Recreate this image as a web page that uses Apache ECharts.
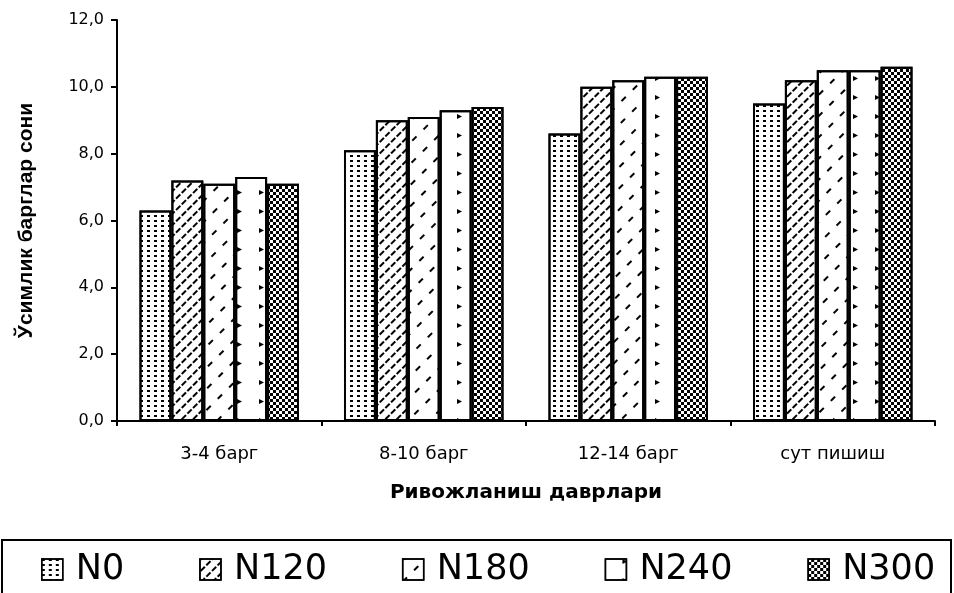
<!DOCTYPE html>
<html>
<head>
<meta charset="utf-8">
<script src="https://cdn.jsdelivr.net/npm/echarts@6/dist/echarts.min.js"></script>
<style>
  html, body { margin: 0; padding: 0; background: #fff; }
  #chart { width: 954px; height: 593px; }
</style>
</head>
<body>
<div id="chart"></div>
<script>
// Growth stages and leaf counts per nitrogen rate
const categories = ['3-4 барг', '8-10 барг', '12-14 барг', 'сут пишиш'];
const seriesNames = ['N0', 'N120', 'N180', 'N240', 'N300'];
const n0   = [6.3, 8.1, 8.6, 9.5];
const n120 = [7.2, 9.0, 10.0, 10.2];
const n180 = [7.1, 9.1, 10.2, 10.5];
const n240 = [7.3, 9.3, 10.3, 10.5];
const n300 = [7.1, 9.4, 10.3, 10.6];
const yTicks = [0, 2, 4, 6, 8, 10, 12];

const values = [n0, n120, n180, n240, n300];

// black-on-white fill patterns, one per series
const decals = [
  { symbol: 'rect', symbolSize: 1, dashArrayX: [3, 4], dashArrayY: [2, 3], rotation: 0 },
  { symbol: 'rect', symbolSize: 1, dashArrayX: [6, 2], dashArrayY: [2, 6], rotation: -Math.PI / 4 },
  { symbol: 'rect', symbolSize: 1, dashArrayX: [6, 10], dashArrayY: [2, 13], rotation: -Math.PI / 4 },
  { symbol: 'triangle', symbolSize: 1, dashArrayX: [5, 14], dashArrayY: [5, 17], rotation: Math.PI / 2 },
  { symbol: 'rect', symbolSize: 1, dashArrayX: [[3, 3], [0, 3, 3, 0]], dashArrayY: [3, 0], rotation: 0 }
];

const chart = echarts.init(document.getElementById('chart'), null, { renderer: 'canvas' });

const series = seriesNames.map((name, i) => ({
  name: name,
  type: 'bar',
  data: values[i],
  barGap: '0%',
  barCategoryGap: '22%',
  itemStyle: {
    color: '#ffffff',
    borderColor: '#000000',
    borderWidth: 2,
    decal: Object.assign({ color: '#000000' }, decals[i])
  }
}));

chart.setOption({
  animation: false,
  backgroundColor: '#ffffff',
  grid: { left: 117, right: 19, top: 20, bottom: 172 },
  xAxis: {
    type: 'category',
    data: categories,
    name: 'Ривожланиш даврлари',
    nameLocation: 'middle',
    nameGap: 62,
    nameTextStyle: { fontFamily: 'DejaVu Sans', fontWeight: 'bold', fontSize: 20, color: '#000' },
    axisLine: { lineStyle: { color: '#000', width: 2 } },
    axisTick: { show: true, length: 5, lineStyle: { color: '#000', width: 2 } },
    axisLabel: { fontFamily: 'DejaVu Sans', fontSize: 18, color: '#000', margin: 24 },
    splitLine: { show: false }
  },
  yAxis: {
    type: 'value',
    min: yTicks[0],
    max: yTicks[yTicks.length - 1],
    interval: 2,
    name: 'Ўсимлик барглар сони',
    nameLocation: 'middle',
    nameGap: 80,
    nameRotate: 90,
    nameTextStyle: { fontFamily: 'Liberation Sans', fontWeight: 'bold', fontSize: 21, color: '#000' },
    axisLine: { show: true, lineStyle: { color: '#000', width: 2 } },
    axisTick: { show: true, length: 6, lineStyle: { color: '#000', width: 2 } },
    axisLabel: {
      fontFamily: 'DejaVu Sans', fontSize: 16, color: '#000', margin: 13,
      formatter: v => v.toFixed(1).replace('.', ',')
    },
    splitLine: { show: false }
  },
  legend: {
    data: seriesNames,
    left: 36,
    top: 547,
    itemWidth: 21,
    itemHeight: 21,
    itemGap: 75,
    icon: 'rect',
    itemStyle: { borderColor: '#000', borderWidth: 1.5 },
    textStyle: { fontFamily: 'DejaVu Sans', fontSize: 35, color: '#000', padding: [0, 0, 0, 8] }
  },
  graphic: [{
    type: 'rect',
    shape: { x: 2, y: 540, width: 949, height: 70 },
    style: { fill: 'none', stroke: '#000', lineWidth: 2 },
    silent: true
  }],
  series: series
});
</script>
</body>
</html>
